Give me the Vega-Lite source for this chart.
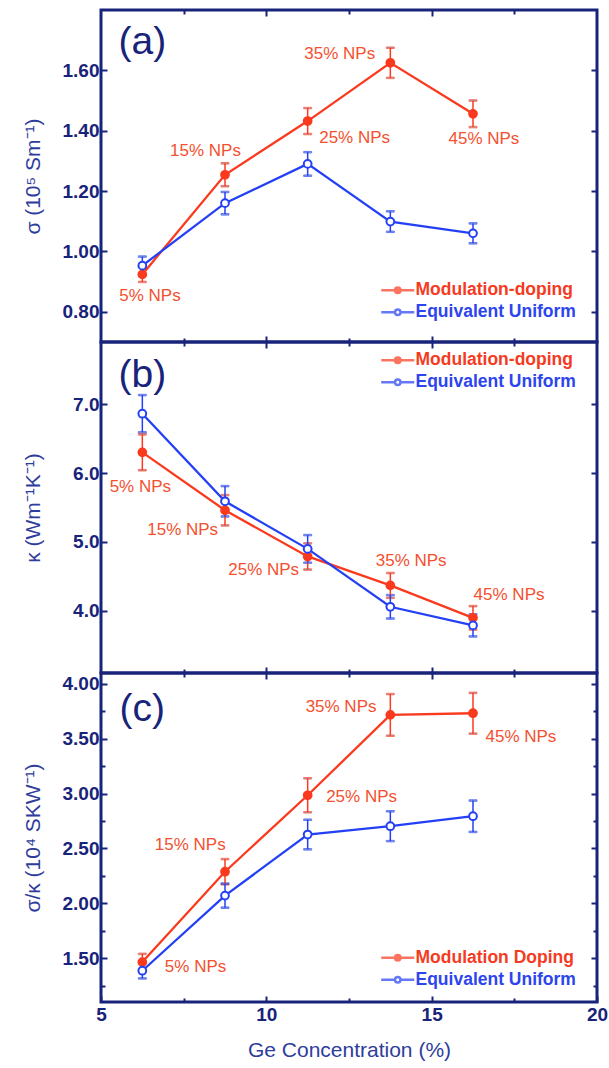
{
  "$schema": "https://vega.github.io/schema/vega-lite/v6.json",
  "padding": {"left": 20, "top": 7, "right": 5, "bottom": 5},
  "background": "white",
  "spacing": 0,
  "bounds": "flush",
  "resolve": {"scale": {"color": "independent", "stroke": "independent", "fill": "independent"}, "legend": {"color": "independent", "stroke": "independent", "fill": "independent"}},
  "config": {
    "view": {"stroke": "#18237a", "strokeWidth": 3},
    "font": "Liberation Sans",
    "legend": {"symbolType": "M-3,0L-0.5,0M0.5,0L3,0M0.5,0A0.5,0.5,0,1,1,-0.5,0A0.5,0.5,0,1,1,0.5,0", "symbolSize": 121, "symbolOffset": 11, "symbolStrokeWidth": 2.5, "labelFont": "Liberation Sans", "labelFontSize": 17.5, "labelFontWeight": "bold", "labelOffset": 9, "labelLimit": 300, "rowPadding": 3, "padding": 0}
  },
  "datasets": {
    "a": [
      {"series": "Modulation-doping", "x": 6.25, "y": 0.924, "err": 0.025},
      {"series": "Modulation-doping", "x": 8.75, "y": 1.254, "err": 0.038},
      {"series": "Modulation-doping", "x": 11.25, "y": 1.432, "err": 0.043},
      {"series": "Modulation-doping", "x": 13.75, "y": 1.625, "err": 0.05},
      {"series": "Modulation-doping", "x": 16.25, "y": 1.456, "err": 0.044},
      {"series": "Equivalent Uniform", "x": 6.25, "y": 0.953, "err": 0.03},
      {"series": "Equivalent Uniform", "x": 8.75, "y": 1.16, "err": 0.037},
      {"series": "Equivalent Uniform", "x": 11.25, "y": 1.29, "err": 0.039},
      {"series": "Equivalent Uniform", "x": 13.75, "y": 1.099, "err": 0.034},
      {"series": "Equivalent Uniform", "x": 16.25, "y": 1.06, "err": 0.033}
    ],
    "b": [
      {"series": "Modulation-doping", "x": 6.25, "y": 6.3, "err": 0.26},
      {"series": "Modulation-doping", "x": 8.75, "y": 5.46, "err": 0.22},
      {"series": "Modulation-doping", "x": 11.25, "y": 4.79, "err": 0.19},
      {"series": "Modulation-doping", "x": 13.75, "y": 4.37, "err": 0.18},
      {"series": "Modulation-doping", "x": 16.25, "y": 3.9, "err": 0.17},
      {"series": "Equivalent Uniform", "x": 6.25, "y": 6.86, "err": 0.27},
      {"series": "Equivalent Uniform", "x": 8.75, "y": 5.59, "err": 0.22},
      {"series": "Equivalent Uniform", "x": 11.25, "y": 4.9, "err": 0.2},
      {"series": "Equivalent Uniform", "x": 13.75, "y": 4.06, "err": 0.17},
      {"series": "Equivalent Uniform", "x": 16.25, "y": 3.79, "err": 0.16}
    ],
    "c": [
      {"series": "Modulation Doping", "x": 6.25, "y": 1.464, "err": 0.075},
      {"series": "Modulation Doping", "x": 8.75, "y": 2.288, "err": 0.115},
      {"series": "Modulation Doping", "x": 11.25, "y": 2.985, "err": 0.155},
      {"series": "Modulation Doping", "x": 13.75, "y": 3.718, "err": 0.19},
      {"series": "Modulation Doping", "x": 16.25, "y": 3.733, "err": 0.186},
      {"series": "Equivalent Uniform", "x": 6.25, "y": 1.385, "err": 0.07},
      {"series": "Equivalent Uniform", "x": 8.75, "y": 2.07, "err": 0.11},
      {"series": "Equivalent Uniform", "x": 11.25, "y": 2.627, "err": 0.135},
      {"series": "Equivalent Uniform", "x": 13.75, "y": 2.703, "err": 0.136},
      {"series": "Equivalent Uniform", "x": 16.25, "y": 2.794, "err": 0.143}
    ],
    "notes": [
      {"panel": "a", "label": "5% NPs", "x": 6.48, "y": 0.852},
      {"panel": "a", "label": "15% NPs", "x": 8.16, "y": 1.334},
      {"panel": "a", "label": "25% NPs", "x": 12.67, "y": 1.376},
      {"panel": "a", "label": "35% NPs", "x": 12.22, "y": 1.653},
      {"panel": "a", "label": "45% NPs", "x": 16.58, "y": 1.371},
      {"panel": "b", "label": "5% NPs", "x": 6.19, "y": 5.8},
      {"panel": "b", "label": "15% NPs", "x": 7.47, "y": 5.18},
      {"panel": "b", "label": "25% NPs", "x": 9.92, "y": 4.6},
      {"panel": "b", "label": "35% NPs", "x": 14.38, "y": 4.72},
      {"panel": "b", "label": "45% NPs", "x": 17.34, "y": 4.23},
      {"panel": "c", "label": "5% NPs", "x": 7.86, "y": 1.415},
      {"panel": "c", "label": "15% NPs", "x": 7.7, "y": 2.536},
      {"panel": "c", "label": "25% NPs", "x": 12.88, "y": 2.97},
      {"panel": "c", "label": "35% NPs", "x": 12.26, "y": 3.794},
      {"panel": "c", "label": "45% NPs", "x": 17.7, "y": 3.515}
    ],
    "letters": [
      {"panel": "a", "label": "(a)", "x": 6.25, "y": 1.695},
      {"panel": "b", "label": "(b)", "x": 6.25, "y": 7.42},
      {"panel": "c", "label": "(c)", "x": 6.25, "y": 3.77}
    ]
  },
  "vconcat": [
    {
      "width": 496, "height": 332,
      "data": {"name": "a"},
      "resolve": {"axis": {"x": "independent", "y": "independent"}},
      "layer": [
        {
          "mark": {"type": "errorbar", "ticks": {"size": 8, "thickness": 1.5}, "rule": {"strokeWidth": 1.5}},
          "encoding": {
            "x": {"field": "x", "type": "quantitative", "scale": {"domain": [5, 20], "nice": false, "zero": false}, "axis": null},
            "y": {"field": "y", "type": "quantitative", "scale": {"domain": [0.7, 1.8], "nice": false, "zero": false}, "axis": null},
            "yError": {"field": "err"},
            "stroke": {"field": "series", "type": "nominal", "scale": {"domain": ["Modulation-doping", "Equivalent Uniform"], "range": ["#fa3a1e", "#2440f5"]}}
          }
        },
        {
          "mark": {"type": "line", "strokeWidth": 2.3},
          "encoding": {
            "x": {"field": "x", "type": "quantitative", "scale": {"domain": [5, 20], "nice": false, "zero": false}, "axis": {"orient": "top", "values": [7.5, 10, 12.5, 15, 17.5], "labels": false, "domain": false, "grid": false, "title": null, "tickColor": "#18237a", "tickWidth": 2, "tickSize": {"condition": {"test": "datum.value % 5 === 0", "value": -6}, "value": -4}}},
            "y": {"field": "y", "type": "quantitative", "scale": {"domain": [0.7, 1.8], "nice": false, "zero": false}, "axis": {"orient": "right", "values": [0.8, 1.0, 1.2, 1.4, 1.6], "labels": false, "domain": false, "grid": false, "title": null, "tickColor": "#18237a", "tickWidth": 2, "tickSize": -6}},
            "stroke": {"field": "series", "type": "nominal", "scale": {"domain": ["Modulation-doping", "Equivalent Uniform"], "range": ["#fa3a1e", "#2440f5"]}, "legend": {"title": null, "orient": "none", "legendX": 277, "legendY": 271.5, "symbolFillColor": {"expr": "indexof(datum.label, 'Modulation') >= 0 ? '#fa3a1e' : '#ffffff'"}, "labelColor": {"expr": "indexof(datum.label, 'Modulation') >= 0 ? '#f53b1f' : '#2d45ee'"}}}
          }
        },
        {
          "mark": {"type": "point", "shape": "circle", "size": 60, "strokeWidth": 2, "opacity": 1},
          "encoding": {
            "x": {"field": "x", "type": "quantitative", "scale": {"domain": [5, 20], "nice": false, "zero": false}, "axis": {"orient": "bottom", "values": [7.5, 10, 12.5, 15, 17.5], "labels": false, "domain": false, "grid": false, "title": null, "tickColor": "#18237a", "tickWidth": 2, "tickSize": {"condition": {"test": "datum.value % 5 === 0", "value": -6}, "value": -4}}},
            "y": {"field": "y", "type": "quantitative", "scale": {"domain": [0.7, 1.8], "nice": false, "zero": false}, "axis": {"orient": "left", "values": [0.8, 1.0, 1.2, 1.4, 1.6], "format": ".2f", "labelFont": "Liberation Sans", "labelFontSize": 19, "labelFontWeight": "bold", "labelColor": "#18237a", "labelPadding": 8, "domain": false, "grid": false, "tickColor": "#18237a", "tickWidth": 2, "tickSize": -6, "title": "σ (10⁵ Sm⁻¹)", "titleFont": "Liberation Sans", "titleFontSize": 21, "titleFontWeight": "normal", "titleColor": "#2e3d9c", "titlePadding": 12, "minExtent": 46, "maxExtent": 46}},
            "stroke": {"field": "series", "type": "nominal", "scale": {"domain": ["Modulation-doping", "Equivalent Uniform"], "range": ["#fa3a1e", "#2440f5"]}, "legend": {"title": null, "orient": "none", "legendX": 277, "legendY": 271.5, "symbolFillColor": {"expr": "indexof(datum.label, 'Modulation') >= 0 ? '#fa3a1e' : '#ffffff'"}, "labelColor": {"expr": "indexof(datum.label, 'Modulation') >= 0 ? '#f53b1f' : '#2d45ee'"}}},
            "fill": {"field": "series", "type": "nominal", "scale": {"domain": ["Modulation-doping", "Equivalent Uniform"], "range": ["#fa3a1e", "#ffffff"]}, "legend": null}
          }
        },
        {
          "data": {"name": "notes"},
          "transform": [{"filter": "datum.panel === 'a'"}],
          "mark": {"type": "text", "font": "Liberation Sans", "fontSize": 17, "color": "#f4502f", "align": "center", "baseline": "middle"},
          "encoding": {
            "x": {"field": "x", "type": "quantitative", "axis": null},
            "y": {"field": "y", "type": "quantitative", "axis": null},
            "text": {"field": "label"}
          }
        },
        {
          "data": {"name": "letters"},
          "transform": [{"filter": "datum.panel === 'a'"}],
          "mark": {"type": "text", "font": "Liberation Sans", "fontSize": 39, "color": "#18237a", "align": "center", "baseline": "middle"},
          "encoding": {
            "x": {"field": "x", "type": "quantitative", "axis": null},
            "y": {"field": "y", "type": "quantitative", "axis": null},
            "text": {"field": "label"}
          }
        }
      ]
    },
    {
      "width": 496, "height": 331,
      "data": {"name": "b"},
      "resolve": {"axis": {"x": "independent", "y": "independent"}},
      "layer": [
        {
          "mark": {"type": "errorbar", "ticks": {"size": 8, "thickness": 1.5}, "rule": {"strokeWidth": 1.5}},
          "encoding": {
            "x": {"field": "x", "type": "quantitative", "scale": {"domain": [5, 20], "nice": false, "zero": false}, "axis": null},
            "y": {"field": "y", "type": "quantitative", "scale": {"domain": [3.1, 7.9], "nice": false, "zero": false}, "axis": null},
            "yError": {"field": "err"},
            "stroke": {"field": "series", "type": "nominal", "scale": {"domain": ["Modulation-doping", "Equivalent Uniform"], "range": ["#fa3a1e", "#2440f5"]}}
          }
        },
        {
          "mark": {"type": "line", "strokeWidth": 2.3},
          "encoding": {
            "x": {"field": "x", "type": "quantitative", "scale": {"domain": [5, 20], "nice": false, "zero": false}, "axis": {"orient": "top", "values": [7.5, 10, 12.5, 15, 17.5], "labels": false, "domain": false, "grid": false, "title": null, "tickColor": "#18237a", "tickWidth": 2, "tickSize": {"condition": {"test": "datum.value % 5 === 0", "value": -6}, "value": -4}}},
            "y": {"field": "y", "type": "quantitative", "scale": {"domain": [3.1, 7.9], "nice": false, "zero": false}, "axis": {"orient": "right", "values": [4, 5, 6, 7], "labels": false, "domain": false, "grid": false, "title": null, "tickColor": "#18237a", "tickWidth": 2, "tickSize": -6}},
            "stroke": {"field": "series", "type": "nominal", "scale": {"domain": ["Modulation-doping", "Equivalent Uniform"], "range": ["#fa3a1e", "#2440f5"]}, "legend": {"title": null, "orient": "none", "legendX": 277, "legendY": 9.5, "symbolFillColor": {"expr": "indexof(datum.label, 'Modulation') >= 0 ? '#fa3a1e' : '#ffffff'"}, "labelColor": {"expr": "indexof(datum.label, 'Modulation') >= 0 ? '#f53b1f' : '#2d45ee'"}}}
          }
        },
        {
          "mark": {"type": "point", "shape": "circle", "size": 60, "strokeWidth": 2, "opacity": 1},
          "encoding": {
            "x": {"field": "x", "type": "quantitative", "scale": {"domain": [5, 20], "nice": false, "zero": false}, "axis": {"orient": "bottom", "values": [7.5, 10, 12.5, 15, 17.5], "labels": false, "domain": false, "grid": false, "title": null, "tickColor": "#18237a", "tickWidth": 2, "tickSize": {"condition": {"test": "datum.value % 5 === 0", "value": -6}, "value": -4}}},
            "y": {"field": "y", "type": "quantitative", "scale": {"domain": [3.1, 7.9], "nice": false, "zero": false}, "axis": {"orient": "left", "values": [4, 5, 6, 7], "format": ".1f", "labelFont": "Liberation Sans", "labelFontSize": 19, "labelFontWeight": "bold", "labelColor": "#18237a", "labelPadding": 8, "domain": false, "grid": false, "tickColor": "#18237a", "tickWidth": 2, "tickSize": -6, "title": "κ (Wm⁻¹K⁻¹)", "titleFont": "Liberation Sans", "titleFontSize": 21, "titleFontWeight": "normal", "titleColor": "#2e3d9c", "titlePadding": 12, "minExtent": 46, "maxExtent": 46}},
            "stroke": {"field": "series", "type": "nominal", "scale": {"domain": ["Modulation-doping", "Equivalent Uniform"], "range": ["#fa3a1e", "#2440f5"]}, "legend": {"title": null, "orient": "none", "legendX": 277, "legendY": 9.5, "symbolFillColor": {"expr": "indexof(datum.label, 'Modulation') >= 0 ? '#fa3a1e' : '#ffffff'"}, "labelColor": {"expr": "indexof(datum.label, 'Modulation') >= 0 ? '#f53b1f' : '#2d45ee'"}}},
            "fill": {"field": "series", "type": "nominal", "scale": {"domain": ["Modulation-doping", "Equivalent Uniform"], "range": ["#fa3a1e", "#ffffff"]}, "legend": null}
          }
        },
        {
          "data": {"name": "notes"},
          "transform": [{"filter": "datum.panel === 'b'"}],
          "mark": {"type": "text", "font": "Liberation Sans", "fontSize": 17, "color": "#f4502f", "align": "center", "baseline": "middle"},
          "encoding": {
            "x": {"field": "x", "type": "quantitative", "axis": null},
            "y": {"field": "y", "type": "quantitative", "axis": null},
            "text": {"field": "label"}
          }
        },
        {
          "data": {"name": "letters"},
          "transform": [{"filter": "datum.panel === 'b'"}],
          "mark": {"type": "text", "font": "Liberation Sans", "fontSize": 39, "color": "#18237a", "align": "center", "baseline": "middle"},
          "encoding": {
            "x": {"field": "x", "type": "quantitative", "axis": null},
            "y": {"field": "y", "type": "quantitative", "axis": null},
            "text": {"field": "label"}
          }
        }
      ]
    },
    {
      "width": 496, "height": 329,
      "data": {"name": "c"},
      "resolve": {"axis": {"x": "independent", "y": "independent"}},
      "layer": [
        {
          "mark": {"type": "errorbar", "ticks": {"size": 8, "thickness": 1.5}, "rule": {"strokeWidth": 1.5}},
          "encoding": {
            "x": {"field": "x", "type": "quantitative", "scale": {"domain": [5, 20], "nice": false, "zero": false}, "axis": null},
            "y": {"field": "y", "type": "quantitative", "scale": {"domain": [1.1, 4.1], "nice": false, "zero": false}, "axis": null},
            "yError": {"field": "err"},
            "stroke": {"field": "series", "type": "nominal", "scale": {"domain": ["Modulation Doping", "Equivalent Uniform"], "range": ["#fa3a1e", "#2440f5"]}}
          }
        },
        {
          "mark": {"type": "line", "strokeWidth": 2.3},
          "encoding": {
            "x": {"field": "x", "type": "quantitative", "scale": {"domain": [5, 20], "nice": false, "zero": false}, "axis": {"orient": "top", "values": [7.5, 10, 12.5, 15, 17.5], "labels": false, "domain": false, "grid": false, "title": null, "tickColor": "#18237a", "tickWidth": 2, "tickSize": {"condition": {"test": "datum.value % 5 === 0", "value": -6}, "value": -4}}},
            "y": {"field": "y", "type": "quantitative", "scale": {"domain": [1.1, 4.1], "nice": false, "zero": false}, "axis": {"orient": "right", "values": [1.25, 1.5, 1.75, 2.0, 2.25, 2.5, 2.75, 3.0, 3.25, 3.5, 3.75, 4.0], "labels": false, "domain": false, "grid": false, "title": null, "tickColor": "#18237a", "tickWidth": 2, "tickSize": {"condition": {"test": "(datum.value * 2) % 1 === 0", "value": -6}, "value": -4}}},
            "stroke": {"field": "series", "type": "nominal", "scale": {"domain": ["Modulation Doping", "Equivalent Uniform"], "range": ["#fa3a1e", "#2440f5"]}, "legend": {"title": null, "orient": "none", "legendX": 277, "legendY": 276, "symbolFillColor": {"expr": "indexof(datum.label, 'Modulation') >= 0 ? '#fa3a1e' : '#ffffff'"}, "labelColor": {"expr": "indexof(datum.label, 'Modulation') >= 0 ? '#f53b1f' : '#2d45ee'"}}}
          }
        },
        {
          "mark": {"type": "point", "shape": "circle", "size": 60, "strokeWidth": 2, "opacity": 1},
          "encoding": {
            "x": {"field": "x", "type": "quantitative", "scale": {"domain": [5, 20], "nice": false, "zero": false}, "axis": {"orient": "bottom", "values": [5, 7.5, 10, 12.5, 15, 17.5, 20], "labelExpr": "datum.value % 5 === 0 ? datum.label : ''", "labelFont": "Liberation Sans", "labelFontSize": 19, "labelFontWeight": "bold", "labelColor": "#18237a", "labelPadding": 9, "labelFlush": false, "domain": false, "grid": false, "tickColor": "#18237a", "tickWidth": 2, "tickSize": {"condition": {"test": "datum.value % 5 === 0", "value": -6}, "value": -4}, "title": "Ge Concentration (%)", "titleFont": "Liberation Sans", "titleFontSize": 21, "titleFontWeight": "normal", "titleColor": "#2e3d9c", "titlePadding": 15}},
            "y": {"field": "y", "type": "quantitative", "scale": {"domain": [1.1, 4.1], "nice": false, "zero": false}, "axis": {"orient": "left", "values": [1.25, 1.5, 1.75, 2.0, 2.25, 2.5, 2.75, 3.0, 3.25, 3.5, 3.75, 4.0], "format": ".2f", "labelExpr": "(datum.value * 2) % 1 === 0 ? datum.label : ''", "labelFont": "Liberation Sans", "labelFontSize": 19, "labelFontWeight": "bold", "labelColor": "#18237a", "labelPadding": 8, "domain": false, "grid": false, "tickColor": "#18237a", "tickWidth": 2, "tickSize": {"condition": {"test": "(datum.value * 2) % 1 === 0", "value": -6}, "value": -4}, "title": "σ/κ (10⁴ SKW⁻¹)", "titleFont": "Liberation Sans", "titleFontSize": 21, "titleFontWeight": "normal", "titleColor": "#2e3d9c", "titlePadding": 12, "minExtent": 46, "maxExtent": 46}},
            "stroke": {"field": "series", "type": "nominal", "scale": {"domain": ["Modulation Doping", "Equivalent Uniform"], "range": ["#fa3a1e", "#2440f5"]}, "legend": {"title": null, "orient": "none", "legendX": 277, "legendY": 276, "symbolFillColor": {"expr": "indexof(datum.label, 'Modulation') >= 0 ? '#fa3a1e' : '#ffffff'"}, "labelColor": {"expr": "indexof(datum.label, 'Modulation') >= 0 ? '#f53b1f' : '#2d45ee'"}}},
            "fill": {"field": "series", "type": "nominal", "scale": {"domain": ["Modulation Doping", "Equivalent Uniform"], "range": ["#fa3a1e", "#ffffff"]}, "legend": null}
          }
        },
        {
          "data": {"name": "notes"},
          "transform": [{"filter": "datum.panel === 'c'"}],
          "mark": {"type": "text", "font": "Liberation Sans", "fontSize": 17, "color": "#f4502f", "align": "center", "baseline": "middle"},
          "encoding": {
            "x": {"field": "x", "type": "quantitative", "axis": null},
            "y": {"field": "y", "type": "quantitative", "axis": null},
            "text": {"field": "label"}
          }
        },
        {
          "data": {"name": "letters"},
          "transform": [{"filter": "datum.panel === 'c'"}],
          "mark": {"type": "text", "font": "Liberation Sans", "fontSize": 39, "color": "#18237a", "align": "center", "baseline": "middle"},
          "encoding": {
            "x": {"field": "x", "type": "quantitative", "axis": null},
            "y": {"field": "y", "type": "quantitative", "axis": null},
            "text": {"field": "label"}
          }
        }
      ]
    }
  ]
}
